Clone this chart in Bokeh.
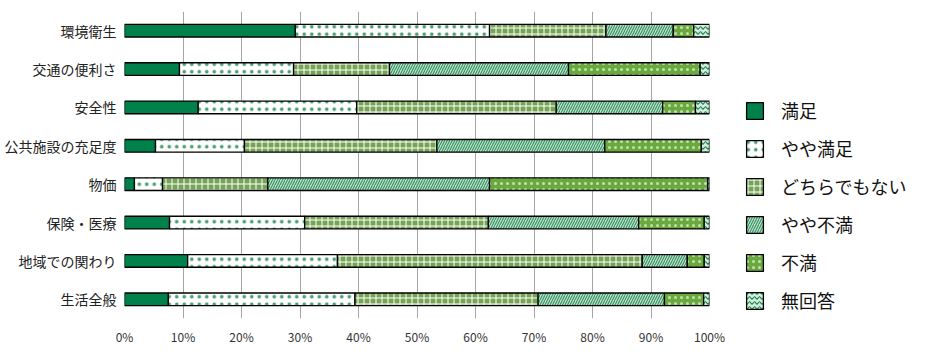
from bokeh.plotting import figure
from bokeh.models import FactorRange, Range1d, FixedTicker, PrintfTickFormatter, Legend, LegendItem
from bokeh.embed import file_html
from bokeh.resources import INLINE
import numpy as np

categories = ["環境衛生", "交通の便利さ", "安全性", "公共施設の充足度", "物価", "保険・医療", "地域での関わり", "生活全般"]
series_names = ["満足", "やや満足", "どちらでもない", "やや不満", "不満", "無回答"]

manzoku      = [29.2,  9.4, 12.6,  5.3,  1.7,  7.7, 10.8,  7.5]
yaya_manzoku = [33.2, 19.5, 27.1, 15.2,  4.8, 23.1, 25.6, 31.9]
dochira      = [19.9, 16.4, 34.1, 32.9, 18.0, 31.4, 52.1, 31.3]
yaya_fuman   = [11.5, 30.6, 18.2, 28.7, 37.9, 25.7,  7.7, 21.6]
fuman        = [ 3.5, 22.5,  5.6, 16.5, 37.3, 11.2,  2.9,  6.7]
mukaito      = [ 2.7,  1.6,  2.4,  1.4,  0.3,  0.9,  0.9,  1.0]
series_values = [manzoku, yaya_manzoku, dochira, yaya_fuman, fuman, mukaito]

x_ticks = [0, 10, 20, 30, 40, 50, 60, 70, 80, 90, 100]

styles = [
    dict(fill_color="#00804A", hatch_pattern=None),
    dict(fill_color="#FFFFFF", hatch_pattern=".", hatch_color="#1E8A55", hatch_scale=7.5, hatch_weight=1, hatch_alpha=0.8),
    dict(fill_color="#76A456", hatch_pattern="+", hatch_color="#FFFFFF", hatch_scale=6, hatch_weight=1.0),
    dict(fill_color="#C2E2CB", hatch_pattern="/", hatch_color="#2F9060", hatch_scale=5, hatch_weight=1.1),
    dict(fill_color="#6AA840", hatch_pattern=".", hatch_color="#D8EFC8", hatch_scale=6, hatch_weight=1, hatch_alpha=0.8),
    dict(fill_color="#D5EDDD", hatch_pattern="v", hatch_color="#1E8A55", hatch_scale=5, hatch_weight=1.2),
]

FONT = "Noto Sans CJK JP"

p = figure(frame_width=585, frame_height=307, output_backend="svg", toolbar_location=None,
           y_range=FactorRange(*list(reversed(categories))), x_range=Range1d(0, 100),
           min_border_left=124, min_border_right=205, min_border_top=11, min_border_bottom=29)

p.outline_line_color = None
p.background_fill_color = "white"
p.ygrid.grid_line_color = None
p.xgrid.grid_line_color = "#A6A6A6"
p.xgrid.grid_line_width = 1
p.xgrid.ticker = FixedTicker(ticks=x_ticks)

p.xaxis.ticker = FixedTicker(ticks=x_ticks)
p.xaxis.formatter = PrintfTickFormatter(format="%d%%")
p.xaxis.axis_line_color = None
p.xaxis.major_tick_line_color = None
p.xaxis.minor_tick_line_color = None
p.xaxis.major_tick_out = 0
p.xaxis.major_tick_in = 0
p.xaxis.major_label_standoff = 9
p.xaxis.major_label_text_font = FONT
p.xaxis.major_label_text_font_size = "12px"
p.xaxis.major_label_text_color = "#333333"

p.yaxis.axis_line_color = None
p.yaxis.major_tick_line_color = None
p.yaxis.minor_tick_line_color = None
p.yaxis.major_tick_out = 0
p.yaxis.major_tick_in = 0
p.yaxis.major_label_standoff = 8
p.yaxis.major_label_text_font = FONT
p.yaxis.major_label_text_font_size = "14px"
p.yaxis.major_label_text_color = "#222222"

left = np.zeros(len(categories))
items = []
for name, vals, st in zip(series_names, series_values, styles):
    vals = np.array(vals)
    right = left + vals
    kw = dict(st)
    if kw.get("hatch_pattern") is None:
        kw.pop("hatch_pattern")
    r = p.hbar(y=categories, left=left.tolist(), right=right.tolist(), height=0.33,
               line_color="black", line_width=1.3, **kw)
    items.append(LegendItem(label=name, renderers=[r]))
    left = right

legend = Legend(items=items, location=(35, 5), padding=0, margin=0,
                border_line_color=None, background_fill_alpha=0,
                glyph_width=21, glyph_height=21, label_height=21,
                spacing=12, label_standoff=16,
                label_text_font=FONT, label_text_font_size="18px", label_text_color="#111111")
p.add_layout(legend, "right")

open("out.html", "w").write(file_html(p, INLINE))
